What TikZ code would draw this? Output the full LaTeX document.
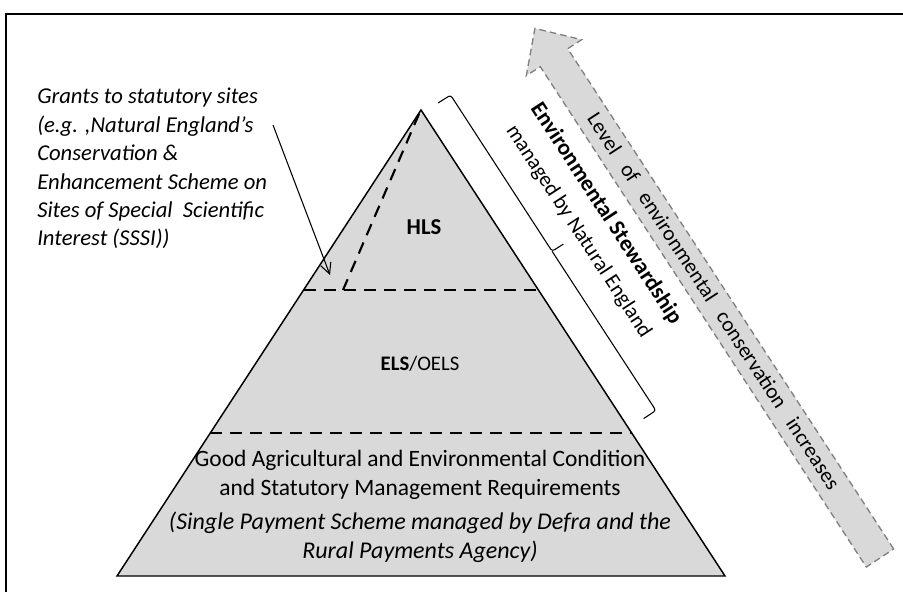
\documentclass[tikz,border=0pt]{standalone}
\usepackage{fontspec}
\setmainfont{Carlito}
\usetikzlibrary{arrows.meta}
\definecolor{pyrgray}{RGB}{217,217,217}
\definecolor{rimgray}{RGB}{128,128,128}
\tikzset{
  txt/.style={font=\fontsize{15.5}{21.5}\selectfont, inner sep=0pt},
  bigtxt/.style={font=\fontsize{17.6}{22}\selectfont, inner sep=0pt},
  itxt/.style={font=\fontsize{17}{21.3}\selectfont\itshape, inner sep=0pt},
  slant/.style={inner sep=0pt, rotate=-56.9},
  tier/.style={line width=1.9pt, dash pattern=on 9pt off 6pt},
}
\begin{document}
\begin{tikzpicture}[x=0.75pt,y=-0.75pt]
\useasboundingbox (0,0) rectangle (903,592);
% frame
\draw[line width=1.5pt] (6,592) -- (6,14) -- (903,14);
% pyramid
\coordinate (apex) at (421,110);
\coordinate (baseL) at (117,576);
\coordinate (baseR) at (725,576);
\filldraw[fill=pyrgray, line width=1.1pt, line join=miter] (baseL) -- (apex) -- (baseR) -- cycle;
\draw[tier] (304,290) -- (538,290);
\draw[tier] (210,433) -- (632,433);
\draw[tier, line width=1.6pt] (419,114) -- (343,290);
\node[txt, font=\fontsize{17}{21}\selectfont] (hls) at (424,227) {\textbf{HLS}};
\node[txt] (els) at (420,364) {\textbf{ELS}/OELS};
\node[bigtxt, align=center] (gaec) at (420,475) {Good Agricultural and Environmental Condition\\and Statutory Management Requirements};
\node[bigtxt, align=center, font=\fontsize{18}{22}\selectfont\itshape] (sps) at (420,537.5) {(Single Payment Scheme managed by Defra and the\\Rural Payments Agency)};
% statutory sites note
\node[itxt, align=left, anchor=north west] (grants) at (37,88) {Grants to statutory sites\\(e.g. ,Natural England’s\\Conservation \&\\Enhancement Scheme on\\Sites of Special~ Scientific\\Interest (SSSI))};
\coordinate (grantsfrom) at (273,125);
\coordinate (grantsto) at (330,275);
\draw[line width=0.8pt, -{Straight Barb[length=8pt,width=8pt]}] (grantsfrom) -- (grantsto);
% brace along the pyramid
\draw[line width=0.8pt, rounded corners=2pt] (438,103) -- (450.6,95.1) -- (552.1,251.3) -- (563.3,244.1)
  (552.1,251.3) -- (655.9,410.5) -- (643.6,418.6);
\node[slant, font=\fontsize{17}{21}\selectfont\bfseries] (esname) at (606,213.5) {Environmental Stewardship};
\node[slant, font=\fontsize{16}{21}\selectfont] (esmgr) at (578.5,231.5) {managed by Natural England};
% level arrow
\filldraw[fill=pyrgray, draw=rimgray, line width=1pt, dash pattern=on 5pt off 3pt]
  (893.7,549.0) -- (567.7,48.7) -- (581.7,39.7) -- (534.9,28.4) -- (526.3,75.7) -- (540.3,66.7) -- (866.3,567.0) -- cycle;
\node[slant, font=\fontsize{16}{21}\selectfont] (level) at (714,301) {Level\hspace{0.75em}of\hspace{0.75em}environmental\hspace{0.75em}conservation\hspace{0.75em}increases};
\end{tikzpicture}
\end{document}
